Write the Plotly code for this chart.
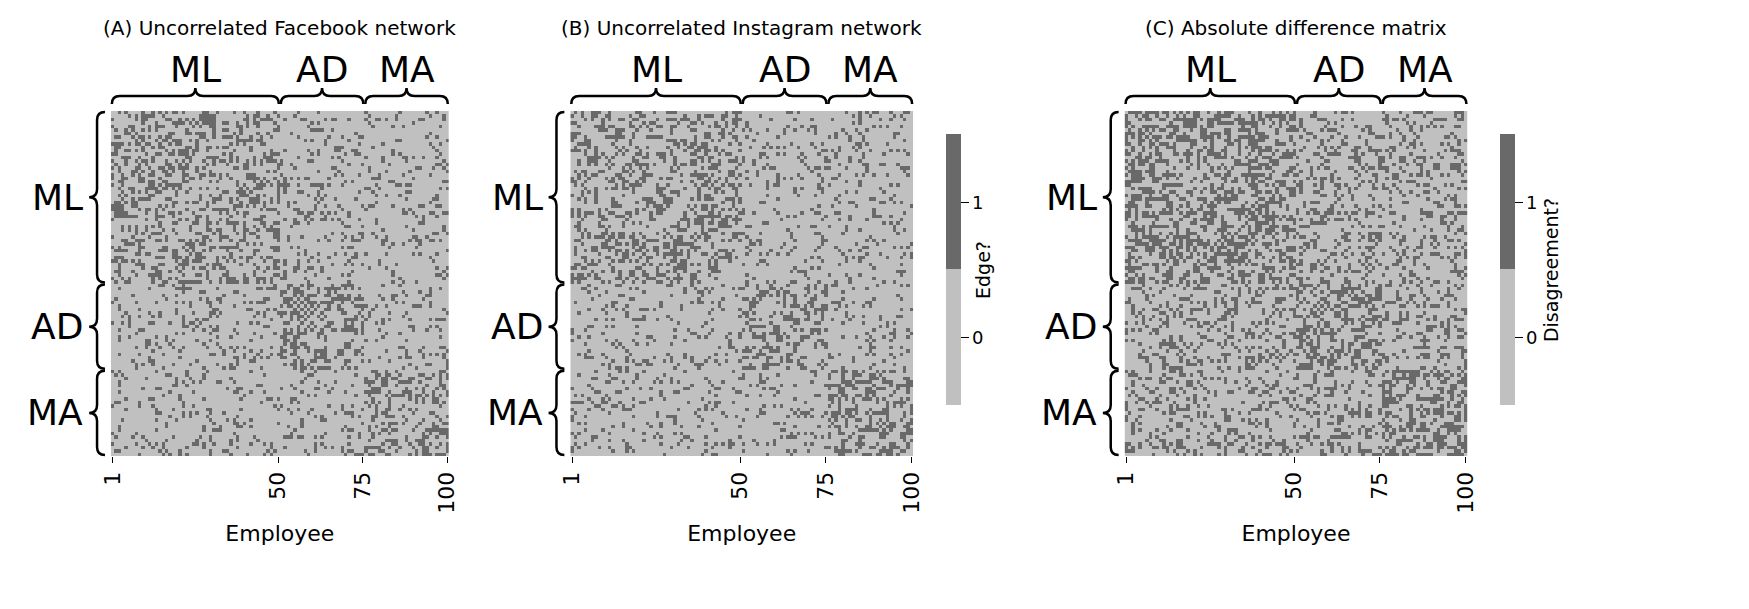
import numpy as np
import plotly.graph_objects as go

W, H = 1749, 609
groups = ["ML", "AD", "MA"]
group_sizes = [50, 25, 25]
# block edge densities
fb_density = [[0.35, 0.15, 0.15], [0.15, 0.40, 0.15], [0.15, 0.15, 0.35]]
ig_density = [[0.35, 0.15, 0.15], [0.15, 0.40, 0.15], [0.15, 0.15, 0.35]]
tick_vals = [1, 50, 75, 100]
light, dark = "#c0c0c0", "#696969"

def sbm(P, seed):
    rng = np.random.default_rng(seed)
    lab = np.repeat(np.arange(3), group_sizes)
    n = len(lab)
    Pm = np.array(P)[lab][:, lab]
    A = (rng.random((n, n)) < Pm).astype(int)
    A = np.triu(A, 1)
    return A + A.T

fb = sbm(fb_density, 1)
ig = sbm(ig_density, 2)
diff = np.abs(fb - ig)

def px(x): return x / W
def py(y): return 1 - y / H

panels = [
    dict(M=fb, x0=93, x1=435, title="(A) Uncorrelated Facebook network", cb=None),
    dict(M=ig, x0=558, x1=905, title="(B) Uncorrelated Instagram network", cb="Edge?"),
    dict(M=diff, x0=1119, x1=1466, title="(C) Absolute difference matrix", cb="Disagreement?"),
]
ytop, ybot = 103, 448
fig = go.Figure()
shapes, ann = [], []
cs = [[0, light], [0.5, light], [0.5, dark], [1, dark]]
idx = np.arange(1, 101)
F = dict(family="DejaVu Sans", color="black")

def hbrace(xa, xb, yb, h):
    xm = (xa + xb) / 2; r = 8; ym = yb - h / 2
    pts = f"M{px(xa)},{py(yb)} Q{px(xa)},{py(ym)} {px(xa+r)},{py(ym)} L{px(xm-r)},{py(ym)} Q{px(xm)},{py(ym)} {px(xm)},{py(yb-h)} Q{px(xm)},{py(ym)} {px(xm+r)},{py(ym)} L{px(xb-r)},{py(ym)} Q{px(xb)},{py(ym)} {px(xb)},{py(yb)}"
    return dict(type="path", xref="paper", yref="paper", path=pts, line=dict(color="black", width=2.5))

def vbrace(ya, yb, xb, w):
    ym = (ya + yb) / 2; r = 8; xm = xb - w / 2
    pts = f"M{px(xb)},{py(ya)} Q{px(xm)},{py(ya)} {px(xm)},{py(ya+r)} L{px(xm)},{py(ym-r)} Q{px(xm)},{py(ym)} {px(xb-w)},{py(ym)} Q{px(xm)},{py(ym)} {px(xm)},{py(ym+r)} L{px(xm)},{py(yb-r)} Q{px(xm)},{py(yb)} {px(xb)},{py(yb)}"
    return dict(type="path", xref="paper", yref="paper", path=pts, line=dict(color="black", width=2.5))

bounds = np.concatenate([[0], np.cumsum(group_sizes)]) / 100
for i, p in enumerate(panels):
    k = "" if i == 0 else str(i + 1)
    tr = go.Heatmap(z=p["M"], x=idx, y=idx, colorscale=cs, zmin=-0.5, zmax=1.5,
                    xaxis="x" + k, yaxis="y" + k, showscale=p["cb"] is not None)
    if p["cb"]:
        tr.colorbar = dict(x=px(p["x1"] + 23), xanchor="left", y=py(262), yanchor="middle",
                           lenmode="pixels", len=291, thickness=15, outlinewidth=0,
                           tickvals=[0, 1], ticks="outside", ticklen=8, tickcolor="black",
                           tickfont=dict(size=18, **F),
                           title=dict(text=p["cb"], side="right", font=dict(size=19, **F)))
    fig.add_trace(tr)
    fig.layout["xaxis" + k] = dict(domain=[px(p["x0"]), px(p["x1"])], anchor="y" + k,
        range=[0.5, 100.5], tickvals=tick_vals, tickangle=-90, ticks="outside", ticklen=6,
        tickcolor="black", tickfont=dict(size=22, **F), showgrid=False, zeroline=False,
        title=dict(text="Employee", font=dict(size=22, **F), standoff=12))
    fig.layout["yaxis" + k] = dict(domain=[py(ybot), py(ytop)], anchor="x" + k,
        range=[100.5, 0.5], showticklabels=False, ticks="", showgrid=False, zeroline=False)
    ann.append(dict(text=p["title"], x=px((p["x0"] + p["x1"]) / 2), y=py(20), xref="paper", yref="paper",
                    xanchor="center", yanchor="middle", showarrow=False, font=dict(size=20, **F)))
    wpx = p["x1"] - p["x0"]; hpx = ybot - ytop
    for g in range(3):
        xa = p["x0"] + bounds[g] * wpx; xb = p["x0"] + bounds[g + 1] * wpx
        shapes.append(hbrace(xa + 1, xb - 1, 96, 16))
        ann.append(dict(text=groups[g], x=px((xa + xb) / 2), y=py(62), xref="paper", yref="paper",
                        xanchor="center", yanchor="middle", showarrow=False, font=dict(size=36, **F)))
        ya = ytop + bounds[g] * hpx; yb = ytop + bounds[g + 1] * hpx
        shapes.append(vbrace(ya + 1, yb - 1, p["x0"] - 6, 16))
        ann.append(dict(text=groups[g], x=px(p["x0"] - 26), y=py((ya + yb) / 2), xref="paper", yref="paper",
                        xanchor="right", yanchor="middle", showarrow=False, font=dict(size=36, **F)))

fig.update_layout(width=W, height=H, margin=dict(l=0, r=0, t=0, b=0), plot_bgcolor="white",
                  paper_bgcolor="white", shapes=shapes, annotations=ann, showlegend=False,
                  font=F)
fig.write_html("out.html")
